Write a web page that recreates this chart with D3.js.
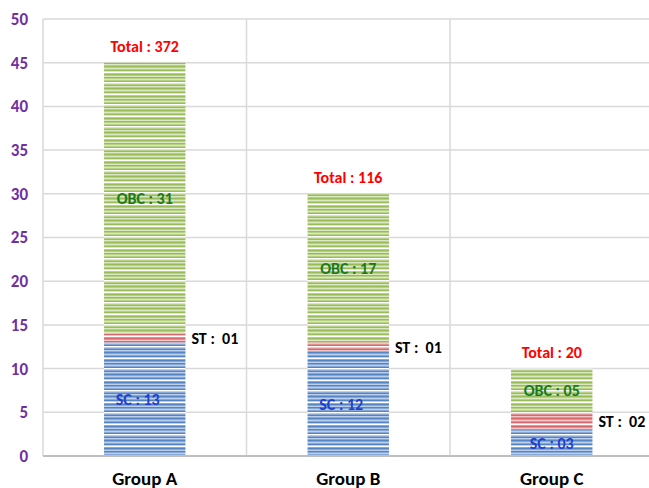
<!DOCTYPE html>
<html>
<head>
<meta charset="utf-8">
<script src="https://cdn.jsdelivr.net/npm/d3@7"></script>
<style>
  html, body { margin: 0; padding: 0; background: #fff; }
  svg text { font-family: Carlito, "Liberation Sans", Arial, sans-serif; font-weight: bold; }
</style>
</head>
<body>
<svg id="chart" width="649" height="488"></svg>
<script>
// Staff strength per group, split by category
const groups = ["Group A", "Group B", "Group C"];
const sc  = [13, 12, 3];
const st  = [1, 1, 2];
const obc = [31, 17, 5];
const totals = ["372", "116", "20"];
const scLabels  = ["13", "12", "03"];
const stLabels  = ["01", "01", "02"];
const obcLabels = ["31", "17", "05"];
const yTicks = [0, 5, 10, 15, 20, 25, 30, 35, 40, 45, 50];

const svg = d3.select("#chart");
const plotLeft = 43, plotTop = 19, plotBottom = 456;
const font = 'Carlito, "Liberation Sans", Arial, sans-serif';

const x = d3.scaleBand().domain(groups).range([plotLeft, plotLeft + 3 * 203.5])
  .paddingInner(0.6).paddingOuter(0.3);
const y = d3.scaleLinear().domain([0, 50]).range([plotBottom, plotTop]);

// striped fills: thin horizontal lines of varying shade
const defs = svg.append("defs");
function stripes(id, dark, mid, light) {
  const rows = [dark, mid, light, mid, dark, light, "#ffffff", mid, dark, mid, light, dark,
                mid, light, mid, dark, "#ffffff", light, mid, dark, light, mid];
  const p = defs.append("pattern").attr("id", id).attr("patternUnits", "userSpaceOnUse")
    .attr("width", 10).attr("height", rows.length);
  rows.forEach((c, i) => p.append("rect").attr("x", 0).attr("y", i)
    .attr("width", 10).attr("height", 1).attr("fill", c));
}
stripes("sc",  "#5584c3", "#87a8d6", "#bccfea");
stripes("st",  "#d7676a", "#e49194", "#f2c6c7");
stripes("obc", "#98bc58", "#b7d184", "#dbe8c3");

// grid
svg.append("g").selectAll("line").data(yTicks.slice(1)).join("line")
  .attr("x1", plotLeft).attr("x2", 649).attr("y1", d => y(d)).attr("y2", d => y(d))
  .attr("stroke", "#d9d9d9").attr("stroke-width", 1.5);
svg.append("g").selectAll("line").data([1, 2]).join("line")
  .attr("x1", i => plotLeft + i * x.step()).attr("x2", i => plotLeft + i * x.step())
  .attr("y1", plotTop).attr("y2", plotBottom)
  .attr("stroke", "#d9d9d9").attr("stroke-width", 1.5);
svg.append("line").attr("x1", plotLeft).attr("x2", plotLeft).attr("y1", plotTop).attr("y2", plotBottom)
  .attr("stroke", "#d9d9d9").attr("stroke-width", 1.5);

// stacked bars
const rows = groups.map((g, i) => ({ group: g, sc: sc[i], st: st[i], obc: obc[i] }));
const stack = d3.stack().keys(["sc", "st", "obc"])(rows);
svg.append("g").selectAll("g").data(stack).join("g")
  .attr("fill", s => `url(#${s.key})`)
  .selectAll("rect").data(s => s).join("rect")
  .attr("x", d => x(d.data.group)).attr("width", x.bandwidth())
  .attr("y", d => y(d[1])).attr("height", d => y(d[0]) - y(d[1]));

// baseline
svg.append("line").attr("x1", plotLeft).attr("x2", 649).attr("y1", plotBottom).attr("y2", plotBottom)
  .attr("stroke", "#bfbfbf").attr("stroke-width", 2);

// y axis labels
const yAxis = d3.axisLeft(y).tickValues(yTicks).tickSize(0).tickPadding(0);
const ya = svg.append("g").attr("transform", `translate(28,0)`).call(yAxis);
ya.select(".domain").remove();
ya.selectAll("text").attr("fill", "#7030a0").style("font-size", "17px")
  .style("font-family", font).style("font-weight", "bold");

// x axis labels
const xAxis = d3.axisBottom(x).tickSize(0).tickPadding(0);
const xa = svg.append("g").attr("transform", `translate(0,471)`).call(xAxis);
xa.select(".domain").remove();
xa.selectAll("text").attr("fill", "#000").style("font-size", "19px")
  .style("font-family", font).style("font-weight", "bold");

const cx = g => x(g) + x.bandwidth() / 2;

// totals
svg.append("g").selectAll("text").data(groups).join("text")
  .attr("x", cx).attr("y", (g, i) => y(sc[i] + st[i] + obc[i]) - 11)
  .attr("text-anchor", "middle").attr("fill", "#ff0000").style("font-size", "16px")
  .text((g, i) => `Total : ${totals[i]}`);

// OBC labels
svg.append("g").selectAll("text").data(groups).join("text")
  .attr("x", cx).attr("y", (g, i) => y(sc[i] + st[i] + obc[i] / 2) + 6)
  .attr("text-anchor", "middle").attr("fill", "#1a7a1a").style("font-size", "16px")
  .text((g, i) => `OBC : ${obcLabels[i]}`);

// SC labels
svg.append("g").selectAll("text").data(groups).join("text")
  .attr("x", (g, i) => cx(g) - (sc[i] > 5 ? 7 : 0)).attr("y", (g, i) => y(sc[i] / 2) + 6)
  .attr("text-anchor", "middle").attr("fill", "#1f3fd0").style("font-size", "16px")
  .text((g, i) => `SC : ${scLabels[i]}`);

// ST labels
svg.append("g").selectAll("text").data(groups).join("text")
  .attr("x", g => x(g) + x.bandwidth() + 6).attr("y", (g, i) => y(sc[i] + st[i] / 2) + 6)
  .attr("fill", "#000").style("font-size", "16px").attr("xml:space", "preserve")
  .text((g, i) => `ST :  ${stLabels[i]}`);
</script>
</body>
</html>
